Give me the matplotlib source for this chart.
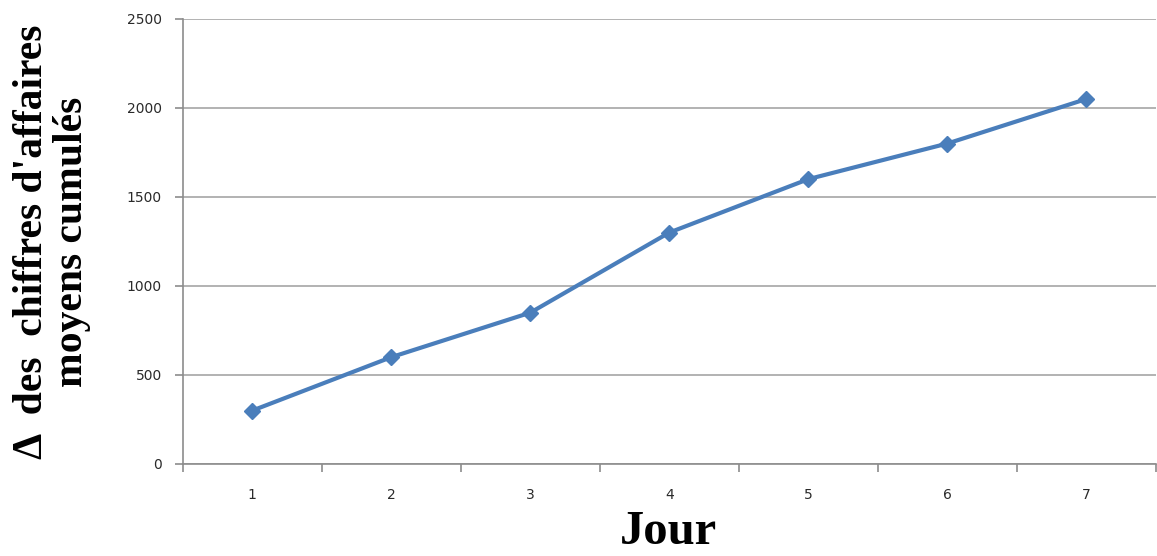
import matplotlib.pyplot as plt

# ==========================================================
# Data
# ==========================================================

jours = [1, 2, 3, 4, 5, 6, 7]

ca_cumules = [300, 600, 850, 1300, 1600, 1800, 2050]

y_ticks = [0, 500, 1000, 1500, 2000, 2500]


# ==========================================================
# Plot
# ==========================================================

fig = plt.figure(figsize=(11.57, 5.56), dpi=100)

ax = fig.add_axes([0.158, 0.1655, 0.841, 0.8005])

ax.plot(
    jours,
    ca_cumules,
    color="#4A7EBB",
    linewidth=3,
    marker="D",
    markersize=8,
    zorder=3
)

ax.set_xlim(0.5, 7.5)
ax.set_ylim(0, 2500)

ax.set_yticks(y_ticks)
ax.set_xticks(jours)
ax.set_xticks([j + 0.5 for j in [0] + jours], minor=True)

ax.grid(axis="y", color="#a6a6a6", linewidth=1.2)
ax.set_axisbelow(True)

for side in ["top", "right"]:
    ax.spines[side].set_visible(False)

for side in ["left", "bottom"]:
    ax.spines[side].set_color("#8c8c8c")
    ax.spines[side].set_linewidth(1.2)

ax.tick_params(axis="x", which="major", length=0, pad=17,
               labelsize=10, labelcolor="#2a2a2a")
ax.tick_params(axis="x", which="minor", length=6, color="#8c8c8c", width=1.2)
ax.tick_params(axis="y", length=6, color="#8c8c8c", width=1.2,
               pad=9, labelsize=10, labelcolor="#2a2a2a")

fig.text(
    0.045, 0.565,
    "\u0394  des  chiffres d'affaires\nmoyens cumulés",
    rotation=90,
    ha="center",
    va="center",
    multialignment="center",
    fontsize=30,
    fontweight="bold",
    family="Liberation Serif",
    linespacing=1.05
)

fig.text(
    0.578, 0.022,
    "Jour",
    ha="center",
    va="baseline",
    fontsize=35,
    fontweight="bold",
    family="Liberation Serif"
)

fig.savefig("out.png", dpi=100)
